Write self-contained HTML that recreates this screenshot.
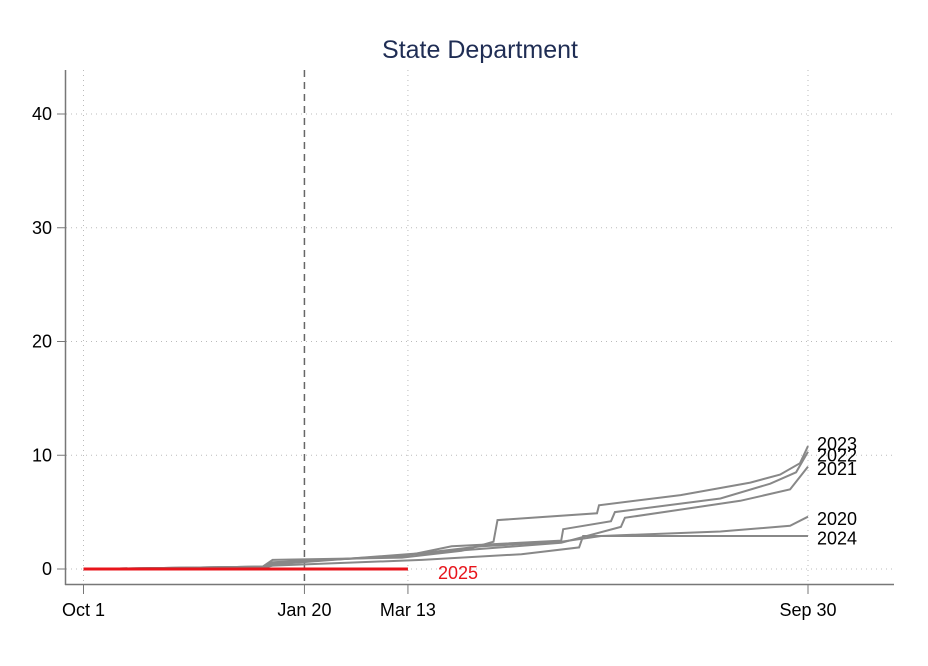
<!DOCTYPE html>
<html><head><meta charset="utf-8"><style>
html,body{margin:0;padding:0;background:#fff;}
svg{display:block;font-family:"Liberation Sans",Arial,sans-serif;}
</style></head><body>
<svg id="chart" width="928" height="666" viewBox="0 0 928 666">
<text x="480" y="58" text-anchor="middle" font-size="25" fill="#1f2d54">State Department</text>
<g id="grid"></g>
<g id="axes"></g>
<g id="series"></g>
<g id="labels"></g>
</svg>
<script>
const yTicks = [0, 10, 20, 30, 40];
const xTickDays = [0, 111, 163, 364];
const xTickLabels = ["Oct 1", "Jan 20", "Mar 13", "Sep 30"];
const seriesNames = ["2020", "2021", "2022", "2023", "2024"];
const days2020 = [0, 90, 95, 170, 200, 240, 260, 320, 355, 364];
const vals2020 = [0, 0.2, 0.4, 1.4, 2.0, 2.4, 2.9, 3.3, 3.8, 4.6];
const days2021 = [0, 90, 95, 160, 180, 240, 270, 272, 330, 355, 364];
const vals2021 = [0, 0.2, 0.5, 1.2, 1.5, 2.3, 3.7, 4.5, 6.0, 7.0, 9.0];
const days2022 = [0, 90, 95, 160, 185, 240, 241, 265, 267, 320, 345, 358, 364];
const vals2022 = [0, 0.2, 0.6, 1.1, 2.0, 2.5, 3.5, 4.2, 5.0, 6.2, 7.5, 8.5, 10.3];
const days2023 = [0, 90, 95, 160, 190, 206, 208, 258, 259, 300, 335, 350, 360, 364];
const vals2023 = [0, 0.2, 0.8, 1.0, 1.6, 2.4, 4.3, 4.9, 5.6, 6.5, 7.6, 8.3, 9.3, 10.8];
const days2024 = [0, 90, 95, 170, 220, 249, 251, 364];
const vals2024 = [0, 0.1, 0.3, 0.8, 1.3, 1.9, 2.9, 2.9];
const days2025 = [0, 163];
const vals2025 = [0, 0];
const labelValues = [4.4, 8.8, 10.0, 11.0, 2.7];

const NS = "http://www.w3.org/2000/svg";
const X0 = 83.5, XK = (808 - 83.5) / 364;
const Y0 = 569, YK = (569 - 114) / 40;
const xs = d => X0 + d * XK;
const ys = v => Y0 - v * YK;
function mk(tag, attrs, parent) {
  const e = document.createElementNS(NS, tag);
  for (const k in attrs) e.setAttribute(k, attrs[k]);
  parent.appendChild(e);
  return e;
}
const grid = document.getElementById('grid');
const axes = document.getElementById('axes');
const series = document.getElementById('series');
const labels = document.getElementById('labels');

yTicks.forEach(t => {
  const g = mk('line', {x1: 66, x2: 893, y1: ys(t), y2: ys(t), stroke: '#bbb', 'stroke-width': 1, 'stroke-dasharray': '1 4'}, grid);
  
  
  const tk = mk('line', {x1: 57, x2: 65, y1: ys(t), y2: ys(t), stroke: '#777', 'stroke-width': 1}, axes);
  
  
  const tx = mk('text', {x: 52, y: ys(t) + 6, 'text-anchor': 'end', 'font-size': 18, fill: '#000'}, axes);
  tx.textContent = t;
  
  
});
xTickDays.forEach((d, i) => {
  if (i !== 1) {
    const g = mk('line', {x1: xs(d), x2: xs(d), y1: 70, y2: 584, stroke: '#bbb', 'stroke-width': 1, 'stroke-dasharray': '1 4'}, grid);
    
    
  }
  const tk = mk('line', {x1: xs(d), x2: xs(d), y1: 585, y2: 594, stroke: '#777', 'stroke-width': 1}, axes);
  
  
  const tx = mk('text', {x: xs(d), y: 616, 'text-anchor': 'middle', 'font-size': 18, fill: '#000'}, axes);
  tx.textContent = xTickLabels[i];
  
  
});
const vl = mk('line', {x1: xs(111), x2: xs(111), y1: 70, y2: 584, stroke: '#666', 'stroke-width': 1.5, 'stroke-dasharray': '7 5'}, grid);


const ya = mk('line', {x1: 65.5, x2: 65.5, y1: 70, y2: 585, stroke: '#777', 'stroke-width': 1.5}, axes);


const xa = mk('line', {x1: 65, x2: 894, y1: 584.5, y2: 584.5, stroke: '#777', 'stroke-width': 1.5}, axes);



const allDays = [days2020, days2021, days2022, days2023, days2024];
const allVals = [vals2020, vals2021, vals2022, vals2023, vals2024];
allDays.forEach((dd, i) => {
  const pts = dd.map((d, j) => xs(d).toFixed(1) + ',' + ys(allVals[i][j]).toFixed(1)).join(' ');
  const p = mk('polyline', {points: pts, fill: 'none', stroke: '#888', 'stroke-width': 2}, series);
  
  
  const t = mk('text', {x: 817, y: ys(labelValues[i]) + 6, 'font-size': 18, fill: '#000'}, labels);
  t.textContent = seriesNames[i];
  
  
});
const red = mk('polyline', {points: days2025.map((d, j) => xs(d) + ',' + ys(vals2025[j])).join(' '), fill: 'none', stroke: '#e8141b', 'stroke-width': 3}, series);


const rt = mk('text', {x: 438, y: ys(vals2025[1]) + 10, 'font-size': 18, fill: '#e8141b'}, labels);
rt.textContent = '2025';


</script>
</body></html>
